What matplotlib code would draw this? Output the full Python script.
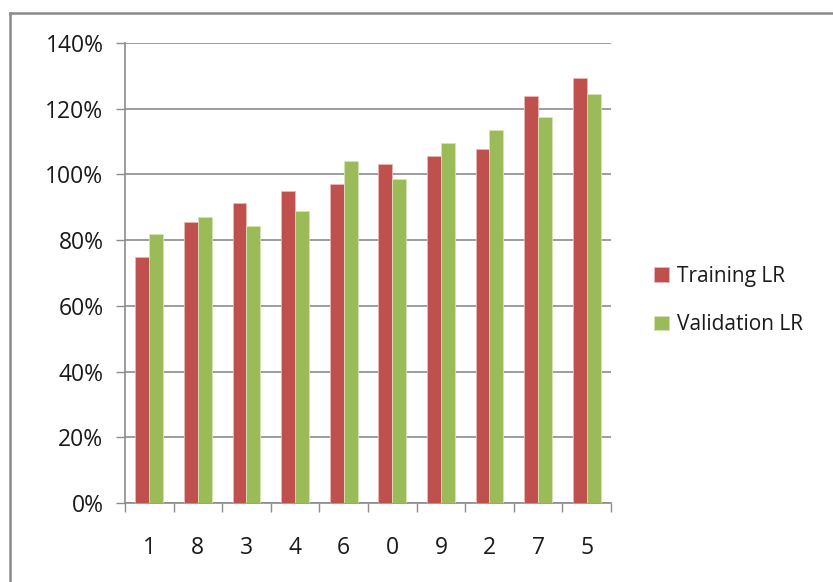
import numpy as np
import matplotlib
matplotlib.use("Agg")
import matplotlib.pyplot as plt
from matplotlib.lines import Line2D
from matplotlib.ticker import FuncFormatter, MultipleLocator

# learning rate ratio per digit class, sorted by training value
digits = ["1", "8", "3", "4", "6", "0", "9", "2", "7", "5"]
training_lr = [74.8, 85.4, 91.2, 95.1, 97.0, 103.3, 105.5, 107.7, 124.0, 129.4]
validation_lr = [81.8, 86.9, 84.3, 88.8, 104.0, 98.6, 109.5, 113.4, 117.4, 124.4]

RED = "#C0504D"
GREEN = "#9BBB59"
GRID = "#8C8C8C"
TEXT = "#1A1A1A"
TICK_FS = 16.5
LEGEND_FS = 15

plt.rcParams["font.family"] = ["Open Sans", "DejaVu Sans"]

fig = plt.figure(figsize=(8.33, 5.82), dpi=100)
ax = fig.add_axes([0.150, 0.1357, 0.5835, 0.7904])

x = np.arange(len(digits))
w = 1 / 3.5
ax.bar(x - w / 2, training_lr, w, color=RED, edgecolor="#E8B8B6", linewidth=0.6, label="Training LR", zorder=3)
ax.bar(x + w / 2, validation_lr, w, color=GREEN, edgecolor="#D4E4B8", linewidth=0.6, label="Validation LR", zorder=3)

ax.set_xlim(-0.5, len(digits) - 0.5)
ax.set_ylim(0, 140)
ax.yaxis.set_major_locator(MultipleLocator(20))
ax.yaxis.set_major_formatter(FuncFormatter(lambda v, p: "%d%%" % v))
ax.grid(axis="y", color=GRID, linewidth=1.2, zorder=0)

# category ticks sit between the groups, labels centred under each group
ax.set_xticks(np.arange(len(digits) + 1) - 0.5)
ax.set_xticklabels([])
ax.set_xticks(x, minor=True)
ax.set_xticklabels(digits, minor=True)
ax.tick_params(axis="x", which="major", length=6.5, color=GRID, width=1)
ax.tick_params(axis="x", which="minor", length=0, pad=23.5, labelsize=TICK_FS, labelcolor=TEXT)
ax.tick_params(axis="y", length=6.5, color=GRID, width=1, pad=9, labelsize=TICK_FS, labelcolor=TEXT)

for side in ["top", "right"]:
    ax.spines[side].set_visible(False)
for side in ["left", "bottom"]:
    ax.spines[side].set_color(GRID)
    ax.spines[side].set_linewidth(1.2)

ax.legend(loc="center left", bbox_to_anchor=(1.05, 0.44), frameon=False, fontsize=LEGEND_FS,
          handlelength=0.7, handleheight=0.7, handletextpad=0.4, labelspacing=1.3,
          labelcolor=TEXT)

# chart area border (top and left edges)
fig.add_artist(Line2D([9.5 / 833, 9.5 / 833], [0, 1 - 12.5 / 582], color="#8A8A8A", linewidth=1.8))
fig.add_artist(Line2D([9.5 / 833, 1], [1 - 12.5 / 582, 1 - 12.5 / 582], color="#8A8A8A", linewidth=1.8))

fig.savefig("out.png", dpi=100)
